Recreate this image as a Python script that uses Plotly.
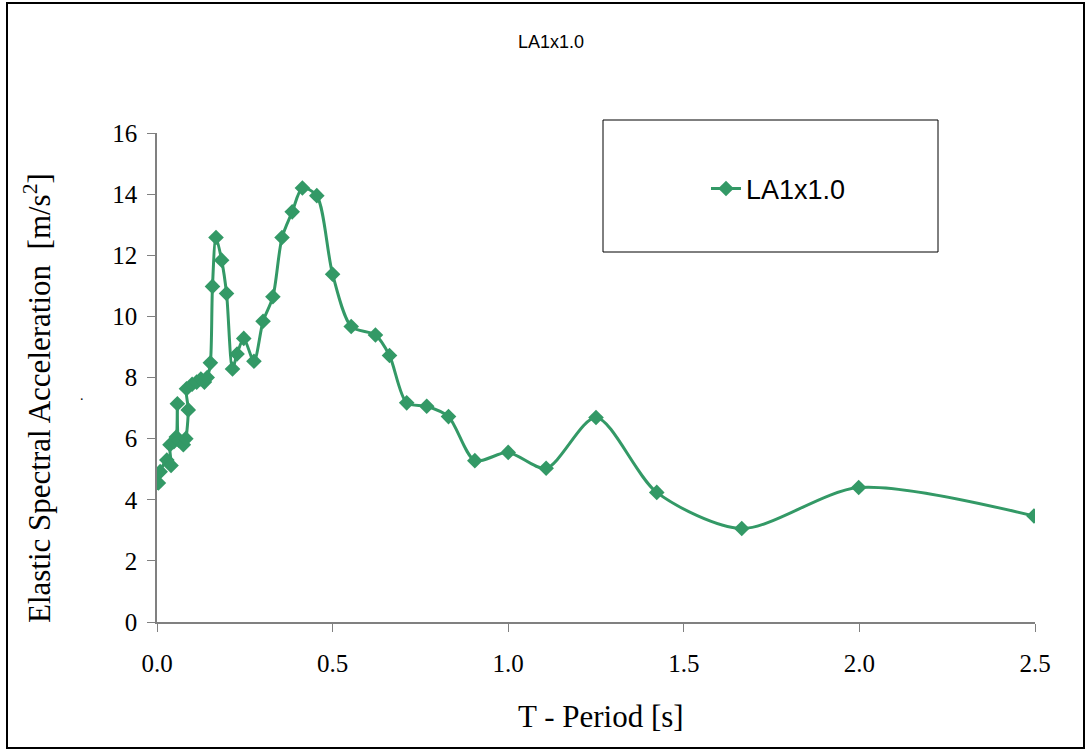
import plotly.graph_objects as go

series_name = "LA1x1.0"
period = [0.004, 0.009, 0.028, 0.040, 0.037, 0.048, 0.055, 0.058, 0.062, 0.075, 0.082,
          0.089, 0.084, 0.100, 0.113, 0.125, 0.135, 0.143, 0.152, 0.158, 0.168, 0.184,
          0.198, 0.215, 0.228, 0.247, 0.276, 0.302, 0.330, 0.356, 0.385, 0.414, 0.455,
          0.500, 0.553, 0.622, 0.662, 0.711, 0.768, 0.830, 0.905, 1.000, 1.108, 1.250,
          1.423, 1.665, 1.998, 2.497]
accel = [4.55, 4.92, 5.30, 5.12, 5.80, 5.90, 6.05, 7.14, 5.95, 5.80, 6.00,
         6.94, 7.63, 7.78, 7.85, 7.95, 7.85, 8.00, 8.48, 10.98, 12.58, 11.84,
         10.75, 8.28, 8.77, 9.28, 8.53, 9.84, 10.64, 12.58, 13.42, 14.20, 13.95,
         11.38, 9.67, 9.39, 8.72, 7.17, 7.06, 6.72, 5.28, 5.55, 5.03, 6.69,
         4.24, 3.06, 4.40, 3.47]
x_ticks = [0.0, 0.5, 1.0, 1.5, 2.0, 2.5]
x_tick_labels = ["0.0", "0.5", "1.0", "1.5", "2.0", "2.5"]
y_ticks = [0, 2, 4, 6, 8, 10, 12, 14, 16]

W, H = 1086, 752
L, R, T, B = 157, 1035, 133, 622  # plot-area bounds in figure px
pw, ph = R - L, B - T

def px(x):  # screen x -> paper
    return (x - L) / pw

def py(y):  # screen y -> paper
    return (B - y) / ph

green = "#339966"
serif = "Liberation Serif, Times New Roman, serif"
sans = "Liberation Sans, Arial, sans-serif"

fig = go.Figure()
fig.add_trace(go.Scatter(
    x=period, y=accel, name=series_name, mode="lines+markers",
    line=dict(color=green, width=3, shape="spline", smoothing=0.8),
    marker=dict(symbol="diamond", size=12, color=green),
    showlegend=True,
))

fig.update_layout(
    width=W, height=H,
    margin=dict(l=L, r=W - R, t=T, b=H - B),
    paper_bgcolor="white", plot_bgcolor="white",
    showlegend=True,
    legend=dict(x=px(706), y=py(189), xanchor="left", yanchor="middle",
                bgcolor="rgba(0,0,0,0)", borderwidth=0,
                font=dict(family=sans, size=27, color="black")),
    shapes=[
        dict(type="rect", xref="paper", yref="paper",
             x0=px(603), x1=px(938), y0=py(252), y1=py(120),
             line=dict(color="black", width=1), layer="below"),
        dict(type="rect", xref="paper", yref="paper",
             x0=px(7), x1=px(1084), y0=py(748), y1=py(3),
             line=dict(color="black", width=2), layer="below"),
    ],
    annotations=[
        dict(text="LA1x1.0", xref="paper", yref="paper", x=px(551), y=py(42),
             xanchor="center", yanchor="middle", showarrow=False,
             font=dict(family=sans, size=18, color="black")),
        dict(text="Elastic Spectral Acceleration  [m/s<sup>2</sup>]", xref="paper", yref="paper",
             x=px(37), y=py(398), xanchor="center", yanchor="middle", textangle=-90,
             showarrow=False, font=dict(family=serif, size=31, color="black")),
        dict(text="T - Period [s]", xref="paper", yref="paper", x=px(601), y=py(716),
             xanchor="center", yanchor="middle", showarrow=False,
             font=dict(family=serif, size=31, color="black")),
        dict(text=".", xref="paper", yref="paper", x=px(82), y=py(396),
             xanchor="center", yanchor="middle", showarrow=False,
             font=dict(family=serif, size=14, color="black")),
    ],
)

fig.update_xaxes(range=[0, 2.5], tickvals=x_ticks, ticktext=x_tick_labels,
                 showgrid=False, zeroline=False, showline=True, linecolor="#808080",
                 linewidth=1.5, ticks="outside", ticklen=8, tickcolor="#808080",
                 tickfont=dict(family=serif, size=25, color="black"),
                 ticklabelstandoff=10)
fig.update_yaxes(range=[0, 16], tickvals=y_ticks,
                 showgrid=False, zeroline=False, showline=True, linecolor="#808080",
                 linewidth=1.5, ticks="outside", ticklen=8, tickcolor="#808080",
                 tickfont=dict(family=serif, size=25, color="black"),
                 ticklabelstandoff=5)

fig.write_html("out.html", config={"displayModeBar": False},
               post_script="document.body.style.margin='0';")
